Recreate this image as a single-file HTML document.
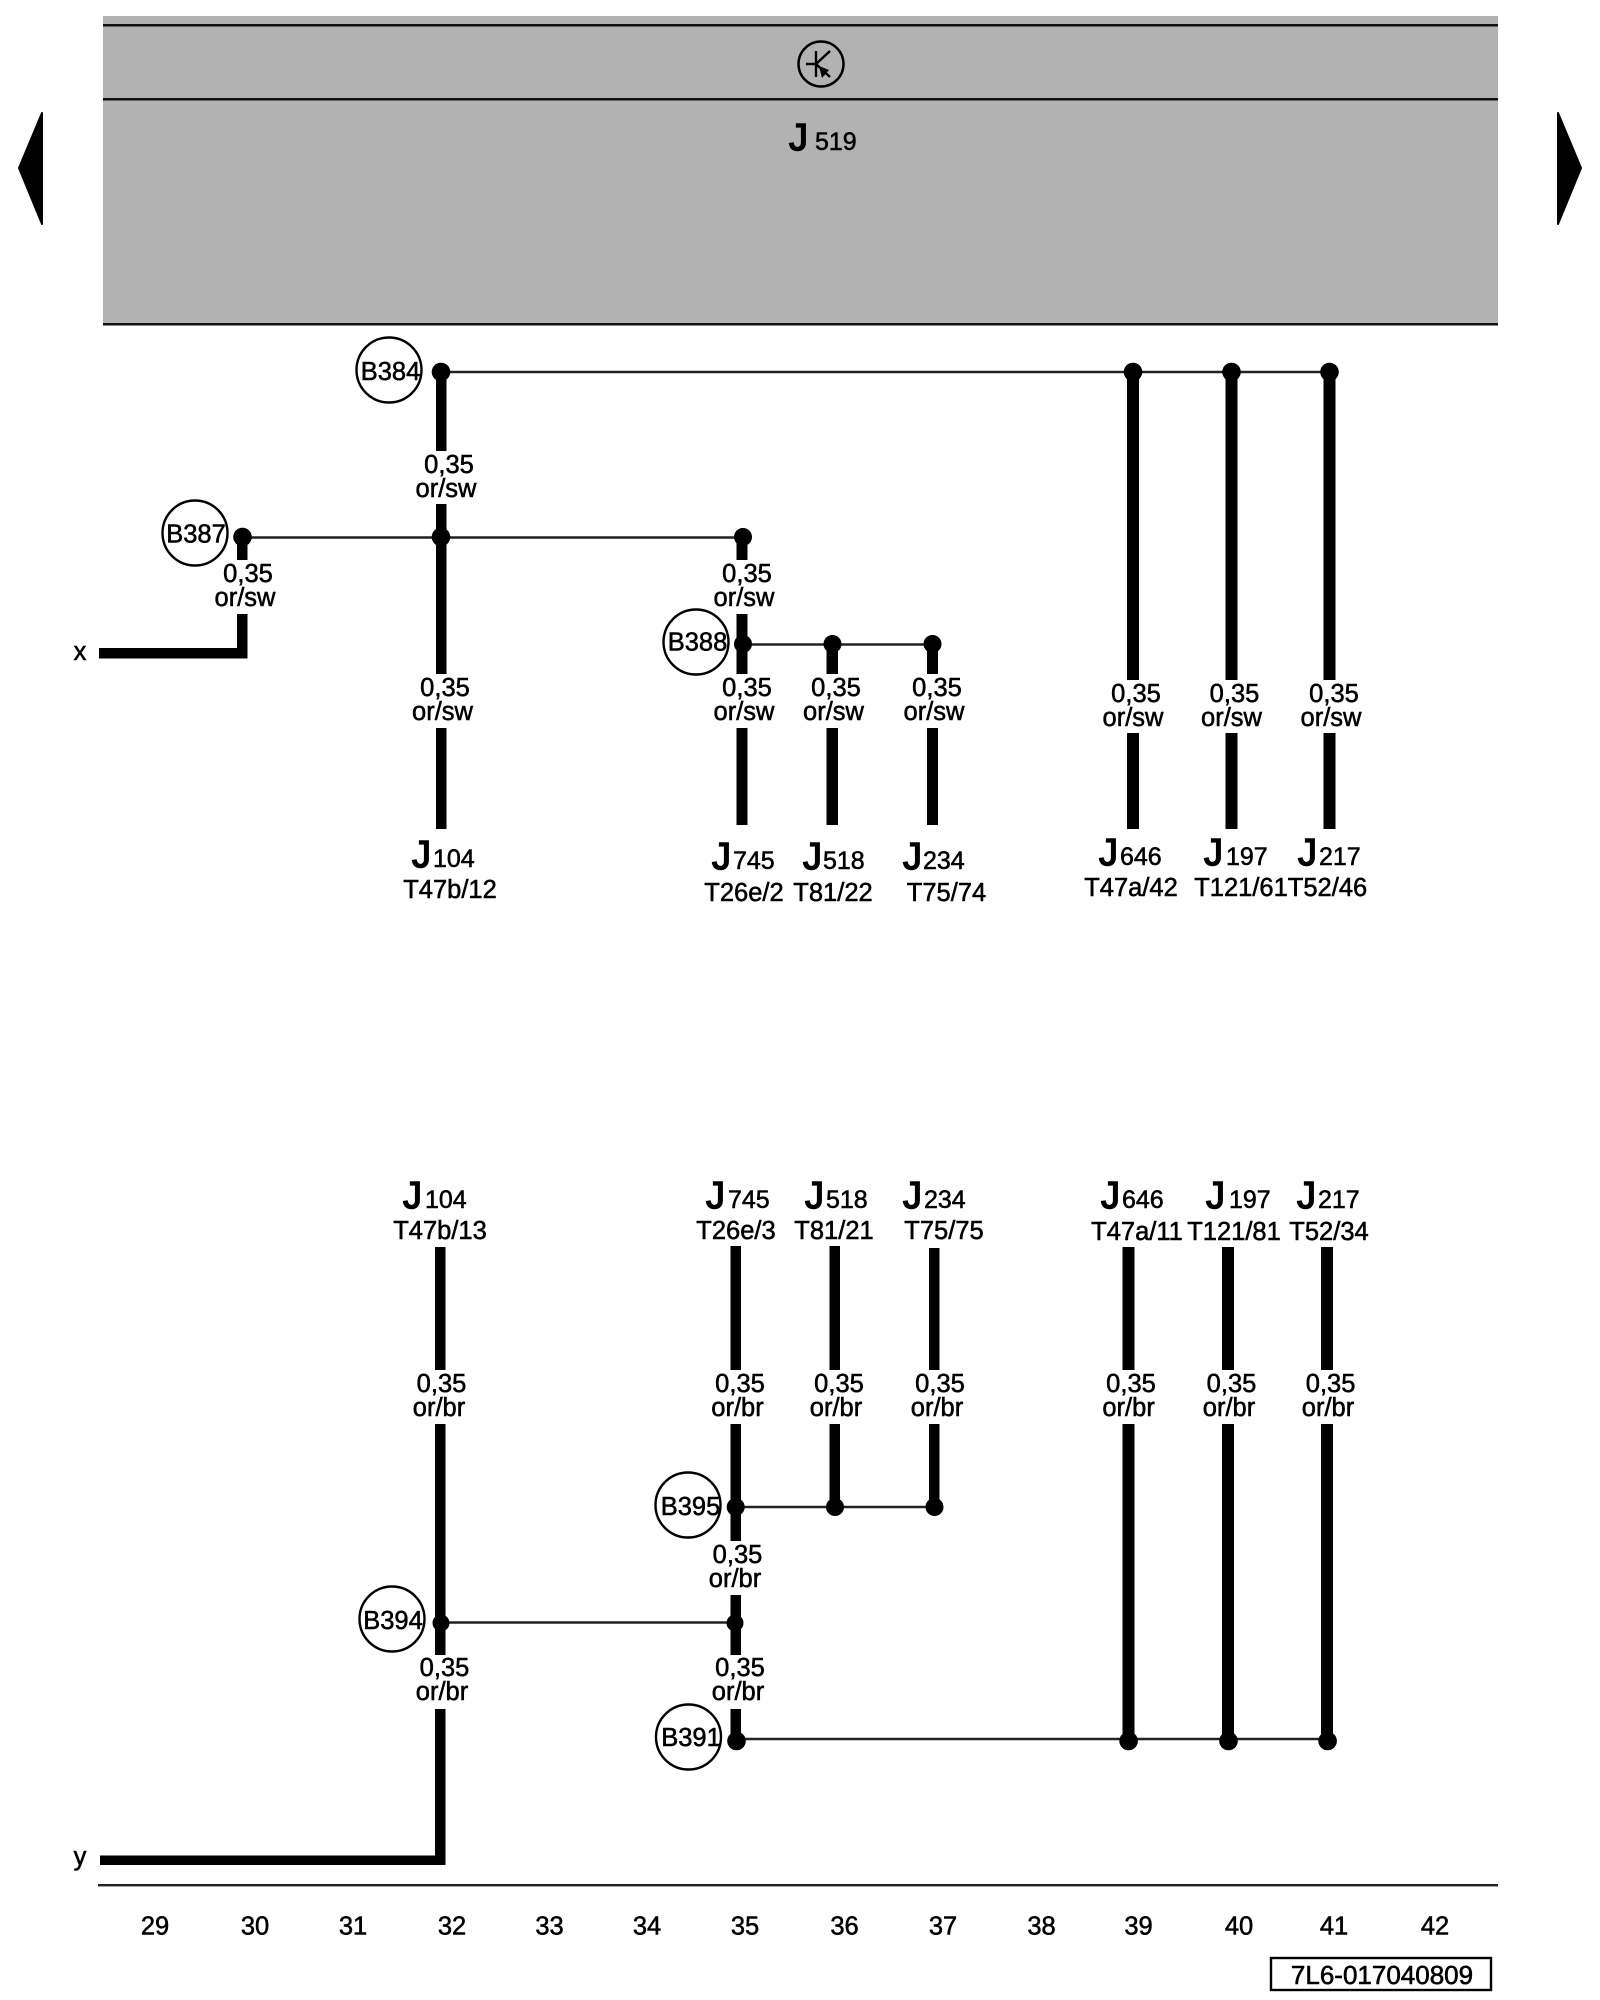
<!DOCTYPE html>
<html><head><meta charset="utf-8"><title>Wiring diagram J519</title>
<style>
html,body{margin:0;padding:0;background:#fff}
svg{display:block}
text{font-family:"Liberation Sans",Arial,sans-serif;fill:#000;stroke:#000;stroke-width:.55}
.l{font-size:25.5px;text-anchor:middle;transform:translateY(1px)}
.j{font-size:38px;stroke-width:1.5}
.n{font-size:25px;transform:translateY(1px)}
.b{font-size:25.5px;text-anchor:middle}
.c{font-size:26px;text-anchor:middle;stroke-width:.6}
</style></head><body>
<svg width="1600" height="2000" viewBox="0 0 1600 2000" xmlns="http://www.w3.org/2000/svg">
<rect width="1600" height="2000" fill="#fff"/>
<rect x="103" y="16" width="1395" height="309" fill="#b2b2b2"/>
<g fill="#111">
<rect x="103" y="24" width="1395" height="2.500"/>
<rect x="103" y="98" width="1395" height="2.500"/>
<rect x="103" y="323" width="1395" height="2.500"/>
</g>
<polygon points="42,113 19,168 42,224" fill="#000" stroke="#000" stroke-width="2" stroke-linejoin="round"/>
<polygon points="1558,113 1581,168 1558,224" fill="#000" stroke="#000" stroke-width="2" stroke-linejoin="round"/>
<circle cx="821" cy="64" r="22.5" fill="none" stroke="#000" stroke-width="2.500"/>
<path d="M806 64H816M816 51V77M816 64L830 51M816 64L830 77" fill="none" stroke="#000" stroke-width="2.400"/>
<polygon points="819,66 829,70 822,78" fill="#000"/>
<text class="j" x="789" y="150">J</text><text class="n" x="815" y="149">519</text>

<!-- thin buses -->
<g stroke="#222" stroke-width="2.400" fill="none">
<path d="M441 372H1330"/>
<path d="M242 537.5H742"/>
<path d="M743 644.5H932"/>
<path d="M736 1507H934"/>
<path d="M441 1622.5H735"/>
<path d="M737 1739H1328"/>
</g>

<!-- thick wires -->
<g fill="#000">
<rect x="436" y="372" width="10.5" height="79"/>
<rect x="436" y="504" width="10.5" height="170"/>
<rect x="436" y="728" width="10.5" height="101"/>
<rect x="237" y="537" width="10.5" height="23"/>
<rect x="237" y="614" width="10.5" height="44"/>
<rect x="99" y="648" width="148.500" height="10.500"/>
<rect x="736.500" y="537" width="11" height="23"/>
<rect x="736.500" y="614" width="11" height="60"/>
<rect x="736.500" y="728" width="11" height="97"/>
<rect x="826.500" y="644" width="11.500" height="30"/>
<rect x="826.500" y="728" width="11.500" height="97"/>
<rect x="927" y="644" width="11" height="30"/>
<rect x="927" y="728" width="11" height="97"/>
<rect x="1127" y="372" width="12" height="308"/>
<rect x="1127" y="733" width="12" height="96"/>
<rect x="1225.500" y="372" width="12" height="308"/>
<rect x="1225.500" y="733" width="12" height="96"/>
<rect x="1323.500" y="372" width="12" height="308"/>
<rect x="1323.500" y="733" width="12" height="96"/>

<rect x="435" y="1247" width="10.500" height="123"/>
<rect x="435" y="1424" width="10.500" height="231"/>
<rect x="435" y="1709" width="10.500" height="156"/>
<rect x="100" y="1855.500" width="345.500" height="9.500"/>
<rect x="730.500" y="1246" width="10.500" height="124"/>
<rect x="730.500" y="1424" width="10.500" height="117"/>
<rect x="730.500" y="1595" width="10.500" height="60"/>
<rect x="730.500" y="1709" width="10.500" height="32"/>
<rect x="829.500" y="1246" width="10.500" height="124"/>
<rect x="829.500" y="1424" width="10.500" height="84"/>
<rect x="929" y="1248" width="10.500" height="122"/>
<rect x="929" y="1424" width="10.500" height="84"/>
<rect x="1122.500" y="1247" width="12" height="123"/>
<rect x="1122.500" y="1424" width="12" height="316"/>
<rect x="1222" y="1247" width="12" height="123"/>
<rect x="1222" y="1424" width="12" height="316"/>
<rect x="1321" y="1247" width="12" height="123"/>
<rect x="1321" y="1424" width="12" height="316"/>
</g>

<!-- junction dots -->
<g fill="#000">
<circle cx="441" cy="372" r="9.300"/>
<circle cx="1133" cy="372" r="9.300"/>
<circle cx="1231.500" cy="372" r="9.300"/>
<circle cx="1329.500" cy="372" r="9.300"/>
<circle cx="242.500" cy="537" r="9.300"/>
<circle cx="441" cy="537" r="9.300"/>
<circle cx="743" cy="537" r="9"/>
<circle cx="743" cy="644" r="9"/>
<circle cx="832.500" cy="644" r="9"/>
<circle cx="932.500" cy="644" r="9"/>
<circle cx="735.700" cy="1507" r="9"/>
<circle cx="835" cy="1507" r="9"/>
<circle cx="934.500" cy="1507" r="9"/>
<circle cx="441" cy="1623" r="8.500"/>
<circle cx="735" cy="1623" r="8.500"/>
<circle cx="736.500" cy="1741" r="9.300"/>
<circle cx="1128.600" cy="1741" r="9.300"/>
<circle cx="1228.500" cy="1741" r="9.300"/>
<circle cx="1327.600" cy="1741" r="9.300"/>
</g>

<!-- connector circles -->
<g fill="#fff" stroke="#000" stroke-width="2.400">
<circle cx="389" cy="370" r="32.500"/>
<circle cx="195" cy="533" r="32.500"/>
<circle cx="696" cy="642" r="32.500"/>
<circle cx="688" cy="1505" r="32.500"/>
<circle cx="392" cy="1619" r="32.500"/>
<circle cx="688.500" cy="1737" r="32.500"/>
</g>
<text class="b" x="390.500" y="380">B384</text>
<text class="b" x="196" y="542.500">B387</text>
<text class="b" x="697.500" y="650.500">B388</text>
<text class="b" x="690.500" y="1515">B395</text>
<text class="b" x="393" y="1629">B394</text>
<text class="b" x="691" y="1746">B391</text>

<!-- size / colour labels -->
<text class="l" x="449" y="472">0,35</text><text class="l" x="446" y="496">or/sw</text>
<text class="l" x="248" y="581">0,35</text><text class="l" x="245" y="605">or/sw</text>
<text class="l" x="747" y="581">0,35</text><text class="l" x="744" y="605">or/sw</text>
<text class="l" x="445" y="695">0,35</text><text class="l" x="442.500" y="719">or/sw</text>
<text class="l" x="747" y="695">0,35</text><text class="l" x="744" y="719">or/sw</text>
<text class="l" x="836" y="695">0,35</text><text class="l" x="833.500" y="719">or/sw</text>
<text class="l" x="937" y="695">0,35</text><text class="l" x="934" y="719">or/sw</text>
<text class="l" x="1136" y="701">0,35</text><text class="l" x="1133" y="725">or/sw</text>
<text class="l" x="1234.500" y="701">0,35</text><text class="l" x="1231.500" y="725">or/sw</text>
<text class="l" x="1334" y="701">0,35</text><text class="l" x="1331" y="725">or/sw</text>

<text class="l" x="441.500" y="1391">0,35</text><text class="l" x="439" y="1415">or/br</text>
<text class="l" x="740" y="1391">0,35</text><text class="l" x="737.500" y="1415">or/br</text>
<text class="l" x="839" y="1391">0,35</text><text class="l" x="836" y="1415">or/br</text>
<text class="l" x="940" y="1391">0,35</text><text class="l" x="937" y="1415">or/br</text>
<text class="l" x="1131" y="1391">0,35</text><text class="l" x="1128.600" y="1415">or/br</text>
<text class="l" x="1231.500" y="1391">0,35</text><text class="l" x="1229" y="1415">or/br</text>
<text class="l" x="1330.600" y="1391">0,35</text><text class="l" x="1328" y="1415">or/br</text>
<text class="l" x="737.500" y="1562">0,35</text><text class="l" x="735" y="1586">or/br</text>
<text class="l" x="444.500" y="1675">0,35</text><text class="l" x="442" y="1699">or/br</text>
<text class="l" x="740" y="1675">0,35</text><text class="l" x="738" y="1699">or/br</text>

<text class="l" x="80" y="659">x</text>
<text class="l" x="80" y="1864">y</text>

<!-- upper J labels -->
<text class="j" x="412" y="867">J</text><text class="n" x="433" y="866">104</text><text class="l" x="450" y="897">T47b/12</text>
<text class="j" x="712" y="869">J</text><text class="n" x="733" y="868">745</text><text class="l" x="744" y="900">T26e/2</text>
<text class="j" x="803" y="869">J</text><text class="n" x="823" y="868">518</text><text class="l" x="833" y="900">T81/22</text>
<text class="j" x="903" y="869">J</text><text class="n" x="923" y="868">234</text><text class="l" x="946.500" y="900">T75/74</text>
<text class="j" x="1099" y="865">J</text><text class="n" x="1120" y="864">646</text><text class="l" x="1131" y="895">T47a/42</text>
<text class="j" x="1204" y="865">J</text><text class="n" x="1226" y="864">197</text><text class="l" x="1241" y="895">T121/61</text>
<text class="j" x="1298" y="865">J</text><text class="n" x="1319" y="864">217</text><text class="l" x="1327.500" y="895">T52/46</text>

<!-- lower J labels -->
<text class="j" x="403" y="1208">J</text><text class="n" x="425" y="1207">104</text><text class="l" x="440" y="1238">T47b/13</text>
<text class="j" x="706" y="1208">J</text><text class="n" x="728" y="1207">745</text><text class="l" x="736" y="1238">T26e/3</text>
<text class="j" x="805" y="1208">J</text><text class="n" x="826" y="1207">518</text><text class="l" x="834" y="1238">T81/21</text>
<text class="j" x="903" y="1208">J</text><text class="n" x="924" y="1207">234</text><text class="l" x="944" y="1238">T75/75</text>
<text class="j" x="1101" y="1208">J</text><text class="n" x="1122" y="1207">646</text><text class="l" x="1137" y="1239">T47a/11</text>
<text class="j" x="1206" y="1208">J</text><text class="n" x="1229" y="1207">197</text><text class="l" x="1234" y="1239">T121/81</text>
<text class="j" x="1297" y="1208">J</text><text class="n" x="1318" y="1207">217</text><text class="l" x="1329" y="1239">T52/34</text>

<!-- footer -->
<rect x="98" y="1884" width="1400" height="2.400" fill="#222"/>
<g>
<text class="l" x="155" y="1933.500">29</text>
<text class="l" x="255" y="1933.500">30</text>
<text class="l" x="353" y="1933.500">31</text>
<text class="l" x="452" y="1933.500">32</text>
<text class="l" x="549.500" y="1933.500">33</text>
<text class="l" x="647" y="1933.500">34</text>
<text class="l" x="745" y="1933.500">35</text>
<text class="l" x="844.500" y="1933.500">36</text>
<text class="l" x="943" y="1933.500">37</text>
<text class="l" x="1041.500" y="1933.500">38</text>
<text class="l" x="1138.500" y="1933.500">39</text>
<text class="l" x="1239" y="1933.500">40</text>
<text class="l" x="1334" y="1933.500">41</text>
<text class="l" x="1435" y="1933.500">42</text>
</g>
<rect x="1271" y="1958" width="220" height="32" fill="none" stroke="#000" stroke-width="2.400"/>
<text class="c" x="1382" y="1984">7L6-017040809</text>
</svg>
</body></html>
